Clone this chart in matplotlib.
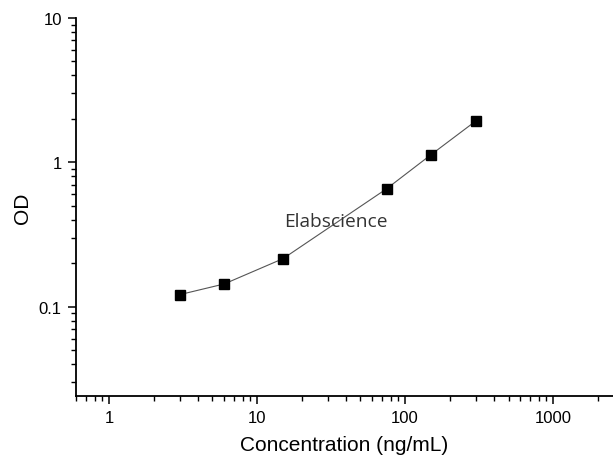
import matplotlib
matplotlib.use('Agg')
import matplotlib.pyplot as plt
import numpy as np
from matplotlib.ticker import LogLocator, NullFormatter, FixedLocator, FixedFormatter

## standard curve values
conc = np.array([3, 6, 15, 75, 150, 300])
od = np.array([0.121, 0.1435, 0.215, 0.655, 1.13, 1.93])

xticks = [1, 10, 100, 1000]
xticklabels = ['1', '10', '100', '1000']
yticks = [0.1, 1, 10]
yticklabels = ['0.1', '1', '10']

plt.rcParams['font.family'] = ['Liberation Sans', 'DejaVu Sans']

fig = plt.figure(figsize=(6.13, 4.60), dpi=100)
ax = fig.add_axes([0.1235, 0.1363, 0.8765, 0.8224])

ax.plot(conc, od, color='#555555', lw=0.8, zorder=1)
ax.plot(conc, od, ls='none', marker='s', ms=6.5, color='black', zorder=2)

ax.set_xscale('log')
ax.set_yscale('log')
ax.set_xlim(0.596, 2540)
ax.set_ylim(0.0239, 10)

ax.xaxis.set_major_locator(FixedLocator(xticks))
ax.xaxis.set_major_formatter(FixedFormatter(xticklabels))
ax.yaxis.set_major_locator(FixedLocator(yticks))
ax.yaxis.set_major_formatter(FixedFormatter(yticklabels))
ax.xaxis.set_minor_locator(LogLocator(base=10, subs=np.arange(2, 10), numticks=20))
ax.yaxis.set_minor_locator(LogLocator(base=10, subs=np.arange(2, 10), numticks=20))
ax.xaxis.set_minor_formatter(NullFormatter())
ax.yaxis.set_minor_formatter(NullFormatter())

for s in ['top', 'right']:
    ax.spines[s].set_visible(False)
for s in ['left', 'bottom']:
    ax.spines[s].set_linewidth(1.3)

ax.tick_params(which='major', direction='out', length=6, width=1.1, labelsize=12, pad=4)
ax.tick_params(which='minor', direction='out', length=3.5, width=1.0)

ax.set_xlabel('Concentration (ng/mL)', fontsize=15, labelpad=7)
ax.set_ylabel('OD', fontsize=15, labelpad=5)

ax.text(0.4845, 0.463, 'Elabscience', transform=ax.transAxes, ha='center', va='center',
        fontsize=13.8, color='#333333', family=['Open Sans', 'DejaVu Sans'])

plt.savefig('out.png', format='png')
plt.close(fig)
